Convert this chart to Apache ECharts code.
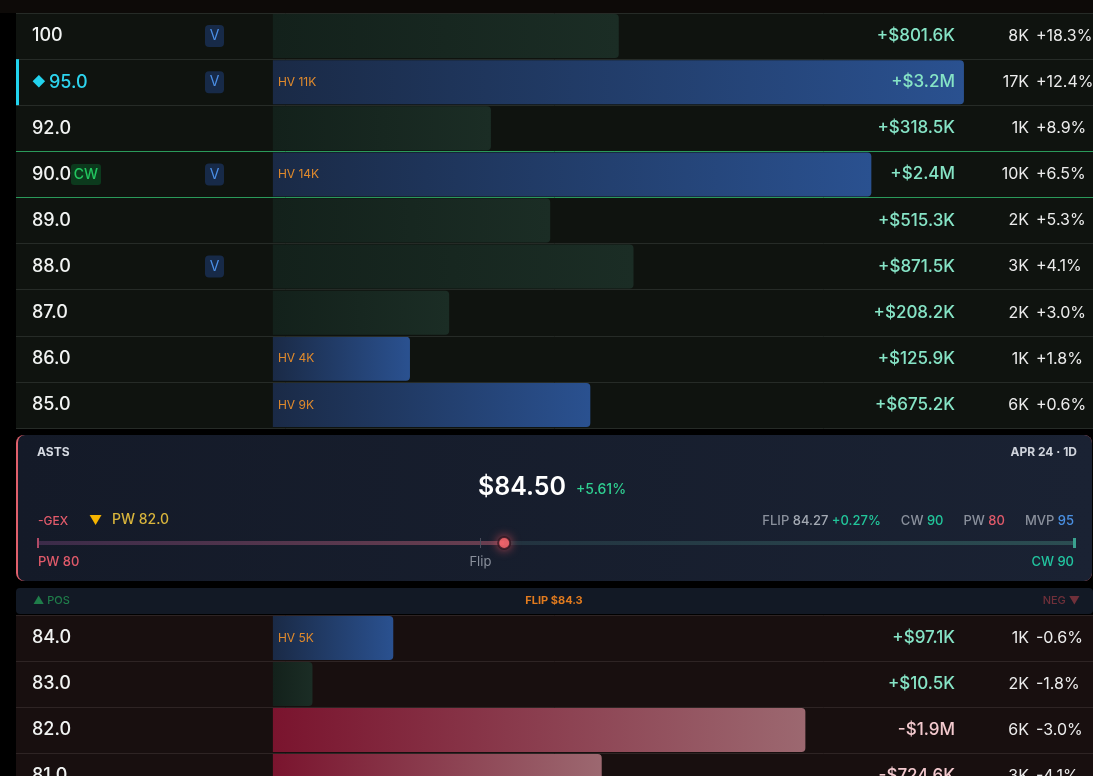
<!DOCTYPE html>
<html><head><meta charset="utf-8">
<script src="https://cdn.jsdelivr.net/npm/echarts@6/dist/echarts.min.js"></script>
<style>html,body{margin:0;padding:0;background:#000;}#c{width:1093px;height:776px;}</style>
</head><body><div id="c"></div>
<script>
// ---------- data ----------
const upperStrikes = ['100','95.0','92.0','90.0','89.0','88.0','87.0','86.0','85.0'];
const upperGex     = [801.6e3, 3.2e6, 318.5e3, 2.4e6, 515.3e3, 871.5e3, 208.2e3, 125.9e3, 675.2e3];
const upperHV      = ['', '11K', '', '14K', '', '', '', '4K', '9K'];
const upperVol     = ['8K','17K','1K','10K','2K','3K','2K','1K','6K'];
const upperPct     = [18.3, 12.4, 8.9, 6.5, 5.3, 4.1, 3.0, 1.8, 0.6];
const upperVFlag   = [true, true, false, true, false, true, false, false, false];

const lowerStrikes = ['84.0','83.0','82.0','81.0'];
const lowerGex     = [97.1e3, 10.5e3, -1.9e6, -724.6e3];
const lowerHV      = ['5K','','',''];
const lowerVol     = ['1K','2K','6K','3K'];
const lowerPct     = [-0.6, -1.8, -3.0, -4.1];
const lowerVFlag   = [false, false, false, false];

const ticker = 'ASTS';
const dateLabel = 'APR 24 · 1D';
const price = 84.50, priceChg = 5.61;
const flip = 84.27, flipChg = 0.27;
const callWall = 90, putWall = 80, mvp = 95, nearPutWall = 82.0;

// ---------- helpers ----------
const FONT = 'Inter, "Noto Sans", sans-serif';
const X_MIN = -665, X_MAX = 2123; // sqrt-dollar scale

function fmtGex(v){
  const a = Math.abs(v);
  const s = a >= 1e6 ? (a/1e6).toFixed(1)+'M' : (a/1e3).toFixed(1)+'K';
  return (v < 0 ? '-' : '+') + '$' + s;
}
function fmtPct(p){ return (p >= 0 ? '+' : '') + p.toFixed(1) + '%'; }
function grad(c0, c1){
  return new echarts.graphic.LinearGradient(0,0,1,0,[{offset:0,color:c0},{offset:1,color:c1}]);
}
function barItems(gex, hv){
  return gex.map((v,i) => {
    let g;
    if (hv[i]) g = grad('#1a2a46', '#2a5190');
    else if (v < 0) g = grad('#7a142e', '#9c6870');
    else g = grad('#13211b', '#1b2d25');
    return { value: Math.sqrt(Math.abs(v)), itemStyle: { color: g, borderRadius: [0,4,4,0] } };
  });
}
function leftLabel(strikes, vflag){
  return function(val, idx){
    const num = parseFloat(val);
    const v = vflag[idx] ? '{v|V}' : '';
    if (num === mvp) return '{cbar| }{pad2| }{dia|◆}{m|' + val + '}' + v;
    if (num === callWall) return '{pad| }{sc|' + val + '}{cw|CW}{gapcw| }' + v;
    return '{pad| }{s|' + val + '}' + v;
  };
}
const richLeft = {
  pad:  { width: 16 },
  pad2: { width: 13 },
  cbar: { width: 3, height: 46, backgroundColor: '#22d3ee' },
  s:    { width: 173, fontSize: 18, fontWeight: 500, color: '#f1f3f2', fontFamily: FONT },
  sc:   { width: 39, fontSize: 18, fontWeight: 500, color: '#f1f3f2', fontFamily: FONT },
  dia:  { width: 17, fontSize: 13, color: '#22d3ee', fontFamily: FONT },
  m:    { width: 156, fontSize: 18, fontWeight: 500, color: '#2dd4ee', fontFamily: FONT },
  cw:   { width: 30, height: 21, align: 'center', backgroundColor: '#0c3a1d', borderRadius: 3, color: '#22c55e', fontSize: 14, fontWeight: 500, fontFamily: FONT },
  gapcw:{ width: 104 },
  v:    { width: 19, height: 22, align: 'center', backgroundColor: '#172a48', borderRadius: 4, color: '#4b8fe6', fontSize: 14, fontFamily: FONT }
};
const richMoney = {
  p: { fontSize: 17, fontWeight: 500, color: '#86e4c6', fontFamily: FONT },
  n: { fontSize: 17, fontWeight: 500, color: '#f3c9ce', fontFamily: FONT }
};
function baseCat(grid, strikes, pos, offset, inside, align, fmt, rich, split){
  return {
    gridIndex: grid, type: 'category', data: strikes, inverse: true, position: pos, offset: offset, z: 10,
    axisLine: { show: false }, axisTick: { show: false },
    axisLabel: { show: true, inside: inside, margin: 0, interval: 0, align: align,
                 formatter: fmt, rich: rich, fontSize: 16, color: '#ececec', fontFamily: FONT },
    splitLine: split ? { show: true, lineStyle: { color: split, width: 1 } } : { show: false }
  };
}
function axesFor(grid, strikes, vflag, gex, vol, pct, split){
  return [
    baseCat(grid, strikes, 'left', 0, true, 'left', leftLabel(strikes, vflag), richLeft, split),
    baseCat(grid, strikes, 'right', -138, true, 'right',
      (val, i) => '{' + (gex[i] < 0 ? 'n' : 'p') + '|' + fmtGex(gex[i]) + '}', richMoney, null),
    baseCat(grid, strikes, 'right', -64, true, 'right', (val, i) => vol[i], null, null),
    baseCat(grid, strikes, 'right', -57, false, 'left', (val, i) => fmtPct(pct[i]), null, null)
  ];
}
const upperSplit = ['#262b27','#262b27','#262b27','#2a9a5a','#2a9a5a','#262b27','#262b27','#262b27','#262b27','#262b27'];
const lowerSplit = ['#2e2424'];

const yAxes = [].concat(
  axesFor(0, upperStrikes, upperVFlag, upperGex, upperVol, upperPct, upperSplit),
  axesFor(1, lowerStrikes, lowerVFlag, lowerGex, lowerVol, lowerPct, lowerSplit),
  [{ gridIndex: 2, type: 'value', min: -1, max: 1, show: false }]
);

const chart = echarts.init(document.getElementById('c'), null, { renderer: 'canvas' });
chart.setOption({
  animation: false,
  backgroundColor: '#000',
  grid: [
    { left: 16, right: 0, top: 13, height: 415, show: true, backgroundColor: '#0f130f', borderWidth: 0, outerBoundsMode: 'none' },
    { left: 16, right: 0, top: 615, height: 184, show: true, backgroundColor: '#180f0f', borderWidth: 0, outerBoundsMode: 'none' },
    { left: 38, width: 1036, top: 538, height: 10, show: false, outerBoundsMode: 'none' }
  ],
  xAxis: [
    { gridIndex: 0, type: 'value', min: X_MIN, max: X_MAX, show: false },
    { gridIndex: 1, type: 'value', min: X_MIN, max: X_MAX, show: false },
    { gridIndex: 2, type: 'value', min: putWall, max: callWall,
      axisLine: { show: false }, axisTick: { show: false }, splitLine: { show: false },
      axisLabel: { show: true, customValues: [putWall, flip, callWall], margin: 8,
        alignMinLabel: 'left', alignMaxLabel: 'right',
        formatter: function(v){
          if (v === putWall) return '{r|PW ' + putWall + '}';
          if (v === callWall) return '{t|CW ' + callWall + '}';
          return '{g|Flip}';
        },
        rich: {
          r: { color: '#e05a6a', fontSize: 13, fontWeight: 500, fontFamily: FONT },
          t: { color: '#22c5a0', fontSize: 13, fontWeight: 500, fontFamily: FONT },
          g: { color: '#8a909c', fontSize: 13, fontFamily: FONT }
        } } }
  ],
  yAxis: yAxes,
  series: [
    { type: 'bar', xAxisIndex: 0, yAxisIndex: 0, barWidth: 44, data: barItems(upperGex, upperHV), z: 2,
      label: { show: true, position: 'insideLeft', distance: 5, color: '#e08a2c', fontSize: 12, fontFamily: FONT,
        formatter: p => upperHV[p.dataIndex] ? 'HV ' + upperHV[p.dataIndex] : '' } },
    { type: 'bar', xAxisIndex: 1, yAxisIndex: 4, barWidth: 44, data: barItems(lowerGex, lowerHV), z: 2,
      label: { show: true, position: 'insideLeft', distance: 5, color: '#e08a2c', fontSize: 12, fontFamily: FONT,
        formatter: p => lowerHV[p.dataIndex] ? 'HV ' + lowerHV[p.dataIndex] : '' } },
    { type: 'line', xAxisIndex: 2, yAxisIndex: 8, data: [[putWall,0],[price,0]], symbol: 'none', clip: false, silent: true, z: 3,
      lineStyle: { width: 4, color: grad('#3b2b49', '#6a3f50') },
      markLine: { symbol: 'none', silent: true, label: { show: false },
        data: [
          { xAxis: putWall, lineStyle: { color: '#b04a66', width: 2, type: 'solid' } },
          { xAxis: flip, lineStyle: { color: '#4b4d5c', width: 1, type: 'solid' } },
          { xAxis: callWall, lineStyle: { color: '#3aa08e', width: 3, type: 'solid' } }
        ] } },
    { type: 'line', xAxisIndex: 2, yAxisIndex: 8, data: [[price,0],[callWall,0]], symbol: 'none', clip: false, silent: true, z: 3,
      lineStyle: { width: 4, color: grad('#22323f', '#2b4d52') } },
    { type: 'scatter', xAxisIndex: 2, yAxisIndex: 8, data: [[price,0]], symbolSize: 12, clip: false, silent: true, z: 5,
      itemStyle: { color: '#ff6b70', borderColor: '#2a1520', borderWidth: 2, shadowBlur: 10, shadowColor: 'rgba(255,90,100,0.7)' } }
  ],
  graphic: [
    { type: 'rect', z: -10, shape: { x: 0, y: 0, width: 1093, height: 13 }, style: { fill: '#0d0a08' } },
    // summary panel
    { type: 'rect', z: -6, shape: { x: 16, y: 435, width: 1076, height: 146, r: 8 }, style: { fill: '#e0606c' } },
    { type: 'rect', z: -5, shape: { x: 18, y: 435, width: 1074, height: 146, r: [7,8,8,7] },
      style: { fill: new echarts.graphic.LinearGradient(0,0,1,0,[{offset:0,color:'#141a28'},{offset:1,color:'#1a2233'}]) } },
    { type: 'text', z: 10, style: { x: 37, y: 452, text: ticker, fill: '#d6dae2', font: '700 12px ' + FONT, verticalAlign: 'middle', align: 'left' } },
    { type: 'text', z: 10, style: { x: 1077, y: 452, text: dateLabel, fill: '#cfd3db', font: '700 12px ' + FONT, verticalAlign: 'middle', align: 'right' } },
    { type: 'text', z: 10, style: { x: 566, y: 487, text: '$' + price.toFixed(2), fill: '#ffffff', font: '600 25px ' + FONT, verticalAlign: 'middle', align: 'right' } },
    { type: 'text', z: 10, style: { x: 576, y: 490, text: (priceChg >= 0 ? '+' : '') + priceChg.toFixed(2) + '%', fill: '#2fcf91', font: '500 14px ' + FONT, verticalAlign: 'middle', align: 'left' } },
    { type: 'text', z: 10, style: { x: 38, y: 521, text: '-GEX', fill: '#e25b6b', font: '500 12px ' + FONT, verticalAlign: 'middle', align: 'left' } },
    { type: 'text', z: 10, style: { x: 89, y: 521, text: '▼', fill: '#f5b400', font: '13px ' + FONT, verticalAlign: 'middle', align: 'left' } },
    { type: 'text', z: 10, style: { x: 112, y: 520, text: 'PW ' + nearPutWall.toFixed(1), fill: '#d9b53c', font: '500 14px ' + FONT, verticalAlign: 'middle', align: 'left' } },
    { type: 'text', z: 10, style: { x: 1074, y: 521, align: 'right', verticalAlign: 'middle',
        text: '{g|FLIP }{w|' + flip.toFixed(2) + ' }{gr|+' + flipChg.toFixed(2) + '%}{sp| }{g|CW }{gr|' + callWall + '}{sp| }{g|PW }{r|' + putWall + '}{sp| }{g|MVP }{b|' + mvp + '}',
        rich: {
          g:  { fill: '#8a909c', font: '500 13px ' + FONT },
          w:  { fill: '#a3a9b3', font: '500 13px ' + FONT },
          gr: { fill: '#22c59a', font: '500 13px ' + FONT },
          r:  { fill: '#e05a6a', font: '500 13px ' + FONT },
          b:  { fill: '#4a90e2', font: '500 13px ' + FONT },
          sp: { width: 20 }
        } } },
    // flip divider bar
    { type: 'rect', z: -5, shape: { x: 16, y: 588, width: 1077, height: 26, r: 4 }, style: { fill: '#121925' } },
    { type: 'text', z: 10, style: { x: 33, y: 601, text: '▲ POS', fill: '#1f7d4a', font: '500 11px ' + FONT, verticalAlign: 'middle', align: 'left' } },
    { type: 'text', z: 10, style: { x: 554, y: 601, text: 'FLIP $' + flip.toFixed(1), fill: '#e27b1e', font: '700 11px ' + FONT, verticalAlign: 'middle', align: 'center' } },
    { type: 'text', z: 10, style: { x: 1080, y: 601, text: 'NEG ▼', fill: '#70303a', font: '500 11px ' + FONT, verticalAlign: 'middle', align: 'right' } }
  ]
});
</script>
</body></html>
